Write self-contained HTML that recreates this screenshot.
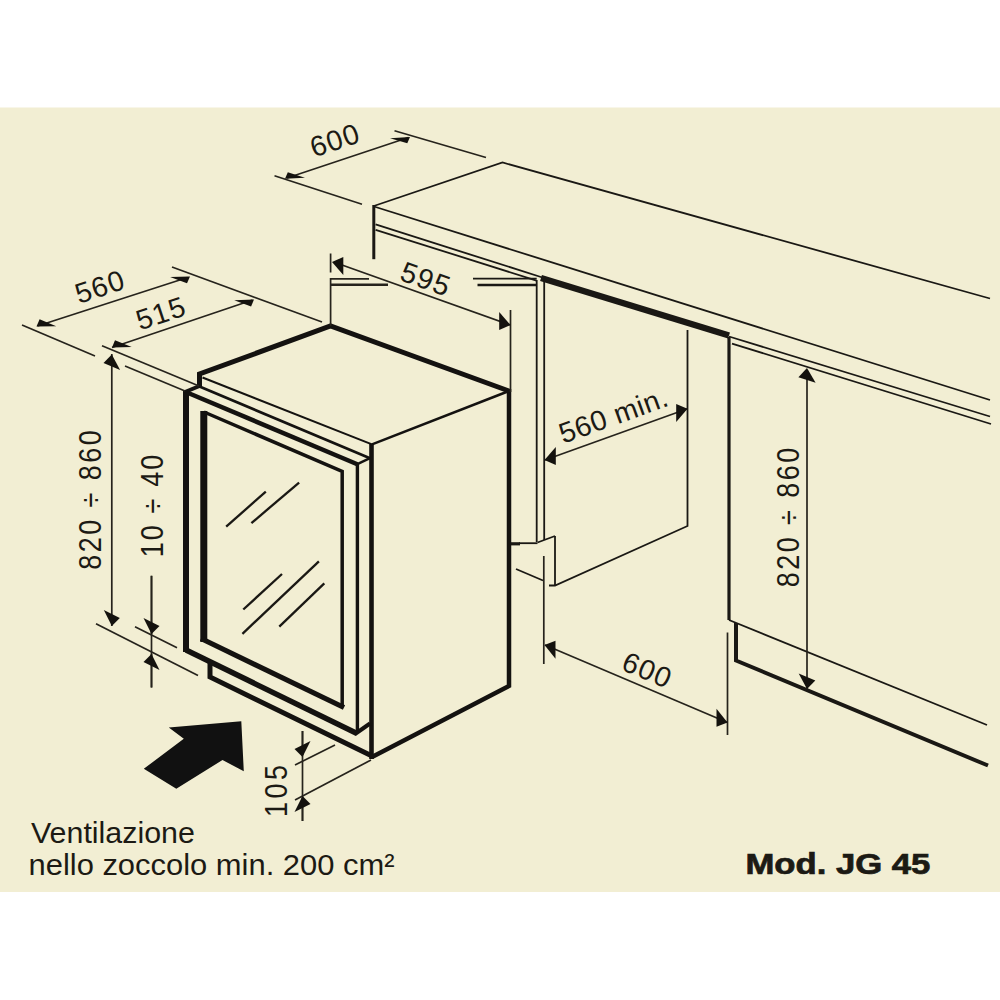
<!DOCTYPE html>
<html><head><meta charset="utf-8"><style>
html,body{margin:0;padding:0;background:#fff;width:1000px;height:1000px;overflow:hidden}
svg{display:block}
text{font-family:"Liberation Sans",sans-serif;fill:#1c1a14}
</style></head><body>
<div id="w"><svg width="1000" height="1000" viewBox="0 0 1000 1000">
<defs>
</defs>
<rect x="0" y="0" width="1000" height="1000" fill="#fff"/>
<rect x="0" y="107.5" width="1000" height="784.5" fill="#f2eed3"/>

<g fill="none" stroke="#1a1814" stroke-linecap="butt" stroke-linejoin="miter">
<!-- ===== Countertop ===== -->
<g stroke-width="1.8">
<path d="M373.8,206 L502.5,162.5 L990,298.5"/>
<path d="M374,206.5 L990,400"/>
<path d="M375.6,224.4 L544,278"/>
<path d="M729,336.5 L990,416.5"/>
<path d="M375.6,229.8 L536.5,280.6"/>
<path d="M732,343.6 L991,424"/>
</g>
<path d="M541,278 L729,335.5" stroke-width="6.5"/>
<path d="M373.8,205 V259.2" stroke-width="3"/>

<!-- cabinet side panel -->
<g stroke-width="1.8">
<path d="M536.7,280 V542"/>
<path d="M544.2,280 V540"/>
<path d="M473,278.7 H536.7"/>
<path d="M555,536 V585"/>
<path d="M537.5,542.5 L555,536"/>
<path d="M516,569 L543,580.5"/>
<path d="M549,585.5 L555,585.5 L687.5,526 V330"/>
</g>
<path d="M477.5,285 H536.7" stroke-width="2.6"/>
<path d="M510,543.8 H520" stroke-width="3.2"/>
<path d="M519,543.2 H537.5" stroke-width="1.8"/>

<!-- right cabinet -->
<path d="M729,337 V620" stroke-width="3.2"/>
<path d="M729,620 L987,725" stroke-width="1.8"/>
<path d="M736,623 V660.5 L988,765.5" stroke-width="4"/>

<!-- ===== Fridge ===== -->
<g stroke="#141210">
<path d="M199.5,387 V374 L330.5,326 L509,391" stroke-width="5"/>
<path d="M509,389 V686 L372,757" stroke-width="4.5"/>
<path d="M371.5,444 V759" stroke-width="4.6"/>
<path d="M202.5,377.5 L372,444.4" stroke-width="2"/>
<path d="M372,444.4 L509,391" stroke-width="2.6"/>
<!-- door -->
<path d="M186,652 V391" stroke-width="6"/>
<path d="M185,392 L199.5,386" stroke-width="4"/>
<path d="M199.5,386.5 L370,458.2" stroke-width="2.8"/>
<path d="M187,392.5 L357.3,464.2" stroke-width="4.5"/>
<path d="M357.3,464.2 L370,458.2" stroke-width="2.5"/>
<path d="M357.4,463 V733" stroke-width="3.4"/>
<path d="M355,734 L370,723.5" stroke-width="4"/>
<path d="M186,650 L357,733.5" stroke-width="5.5"/>
<!-- inner frame -->
<path d="M204,412 L342.2,471.4 V707" stroke-width="3.5"/>
<path d="M203.8,411 V642" stroke-width="7"/>
<path d="M201,638.5 L344,707.5" stroke-width="5.2"/>
<!-- plinth -->
<path d="M210,661 V677 L372,756" stroke-width="5"/>
</g>

<!-- glass reflections -->
<g stroke-width="2.3">
<path d="M226.2,526.7 L265.8,491.6"/>
<path d="M251.4,523.1 L299.1,482.6"/>
<path d="M243.3,609.5 L282,574"/>
<path d="M242.4,633.8 L318.9,561.4"/>
<path d="M279.3,626.6 L324.3,583.4"/>
</g>

<!-- ===== Dimension lines ===== -->
<g stroke-width="1.7" stroke="#26231c">
<!-- top 600 -->
<path d="M274.5,175.8 L362,204.3"/>
<path d="M394.5,130.8 L486,157.5"/>
<path d="M287,178 L408.5,137.5"/>
<!-- 595 -->
<path d="M330.6,253.5 V272.5 M330.6,278 V326"/>
<path d="M330,278.8 H369"/>
<path d="M330,284.8 H388" stroke-width="2.6"/>
<path d="M510.5,310 V392"/>
<path d="M335,262.5 L510,325"/>
<!-- 560 / 515 -->
<path d="M22,325 L95,356"/>
<path d="M172,267 L322,322"/>
<path d="M37.5,326 L187.5,277.5"/>
<path d="M112,347.5 L252.5,300"/>
<path d="M102,345.8 L199,386"/>
<path d="M125,366 L185,391"/>
<!-- 820-860 left -->
<path d="M111.8,354 V626"/>
<path d="M96,623.8 L198,675.5"/>
<!-- 10-40 -->
<path d="M151.5,575.8 V634"/>
<path d="M151.5,687.5 V654"/>
<path d="M151.5,575.8 V687.5"/>
<path d="M135,626.8 L177,647.8"/>
<!-- 560 min -->
<path d="M545,460 L687.5,408.8"/>
<!-- 600 lower -->
<path d="M543.8,556 V664"/>
<path d="M727.5,632.5 V735"/>
<path d="M545,645 L727.5,722.5"/>
<!-- 820-860 right -->
<path d="M807,370 V689"/>
<!-- 105 -->
<path d="M302.5,731 V755"/>
<path d="M302.5,821 V797.5"/>
<path d="M302.5,731 V821"/>
<path d="M295,765 L335,745"/>
<path d="M295,800 L371,760"/>
</g>
</g>

<!-- arrowheads -->
<g fill="#14120e">
<polygon points="285.0,178.8 305.0,177.7 287.8,172.3"/>
<polygon points="410.0,137.0 407.3,143.3 390.0,138.3"/>
<polygon points="332.0,262.0 343.3,275.0 343.3,257.0"/>
<polygon points="510.5,325.0 499.2,330.0 499.2,312.0"/>
<polygon points="36.5,326.5 56.2,326.3 39.6,319.3"/>
<polygon points="190.0,276.5 187.0,283.3 170.1,277.1"/>
<polygon points="112.0,347.5 131.7,347.1 115.0,340.2"/>
<polygon points="254.0,299.5 251.1,306.4 234.2,300.2"/>
<polygon points="111.8,354.5 120.1,370.0 103.5,363.0"/>
<polygon points="111.8,626.0 119.8,618.1 103.8,609.9"/>
<polygon points="151.5,634.0 159.5,626.0 143.5,618.0"/>
<polygon points="151.5,654.0 159.5,670.1 143.5,661.9"/>
<polygon points="544.5,460.0 555.8,465.0 555.8,447.0"/>
<polygon points="687.5,408.8 676.2,421.9 676.2,403.9"/>
<polygon points="544.5,645.0 555.5,658.7 555.5,640.7"/>
<polygon points="727.5,722.5 716.5,726.8 716.5,708.8"/>
<polygon points="807.0,368.0 815.6,382.7 798.4,377.3"/>
<polygon points="807.0,689.0 815.3,680.5 798.7,673.5"/>
<polygon points="302.5,757.0 310.5,741.0 294.5,749.0"/>
<polygon points="302.5,796.0 310.5,804.0 294.5,812.0"/>
</g>
<!-- big arrow -->
<polygon points="241.3,721.3 243.8,771.3 222.5,760 176.3,788.8 143.8,768.8 183.8,738.8 168.8,727.5" fill="#111"/>

<!-- texts -->
<g font-size="31">
<text font-size="28.5" letter-spacing="1.2" transform="translate(335,140) rotate(-18.5)" text-anchor="middle" dominant-baseline="central">600</text>
<text font-size="28.5" letter-spacing="1.2" transform="translate(426,279) rotate(19.7)" text-anchor="middle" dominant-baseline="central">595</text>
<text font-size="28.5" letter-spacing="0.6" transform="translate(613.5,415) rotate(-19.8)" text-anchor="middle" dominant-baseline="central">560 min.</text>
<text font-size="28.5" letter-spacing="1.2" transform="translate(647.5,670) rotate(23)" text-anchor="middle" dominant-baseline="central">600</text>
<text transform="translate(90,500) rotate(-90) scale(0.87,1)" text-anchor="middle" dominant-baseline="central" textLength="160.3" lengthAdjust="spacing">820 ÷ 860</text>
<text transform="translate(152.6,506) rotate(-90) scale(0.87,1)" text-anchor="middle" dominant-baseline="central" textLength="117.8" lengthAdjust="spacing">10 ÷ 40</text>
<text transform="translate(788,517.5) rotate(-90) scale(0.87,1)" text-anchor="middle" dominant-baseline="central" textLength="160.3" lengthAdjust="spacing">820 ÷ 860</text>
<text transform="translate(276,791) rotate(-90) scale(0.87,1)" text-anchor="middle" dominant-baseline="central" textLength="59.8" lengthAdjust="spacing">105</text>
<text font-size="28.5" letter-spacing="1.2" transform="translate(100,286.5) rotate(-18.4)" text-anchor="middle" dominant-baseline="central">560</text>
<text font-size="28.5" letter-spacing="1.2" transform="translate(161,313) rotate(-18.4)" text-anchor="middle" dominant-baseline="central">515</text>
</g>
<g font-size="30.4">
<text x="31" y="843">Ventilazione</text>
<text x="28.5" y="875" textLength="366" lengthAdjust="spacingAndGlyphs">nello zoccolo min. 200 cm²</text>
</g>
<text x="745.4" y="874" font-size="29" font-weight="bold" textLength="185" lengthAdjust="spacingAndGlyphs" stroke="#1c1a14" stroke-width="0.7">Mod. JG 45</text>
</svg></div>
</body></html>
